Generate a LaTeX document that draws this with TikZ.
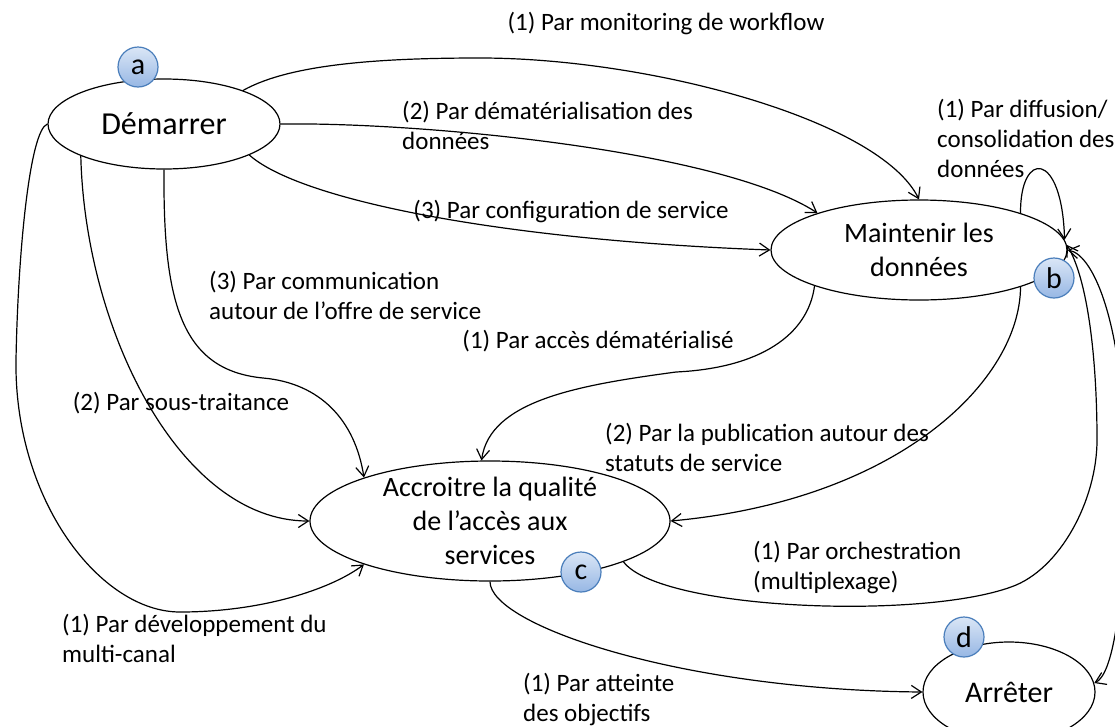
\documentclass[tikz,border=0pt]{standalone}
\usepackage{fontspec}
\setmainfont{Carlito}
\usepackage{tikz}
\usetikzlibrary{
  arrows.meta,
  shapes.geometric
}
\definecolor{pastBord}{HTML}{4A7EBB}
\definecolor{pastHaut}{HTML}{DAE6F6}
\definecolor{pastBas}{HTML}{97B7E4}
\tikzset{
  etat/.style={draw, ellipse, fill=white, line width=1.2pt, inner sep=0pt},
  etattxt/.style={align=center, inner sep=0pt, font=\fontsize{28}{34}\selectfont},
  pastille/.style={
    circle, draw=pastBord, line width=1.2pt, top color=pastHaut, bottom color=pastBas,
    minimum size=40pt, inner sep=0pt, font=\fontsize{30}{30}\selectfont
  },
  lbl/.style={font=\fontsize{25}{30}\selectfont, align=left, inner sep=0pt},
  trans/.style={-{Straight Barb[length=10pt,width=13pt]}, line width=1.2pt},
  bitrans/.style={{Straight Barb[length=10pt,width=13pt]}-{Straight Barb[length=10pt,width=13pt]}, line width=1.2pt}
}

\begin{document}
\begin{tikzpicture}[x=1pt, y=-1pt]
  \useasboundingbox (0,0) rectangle (1115,726);
  \clip (0,0) rectangle (1115,726);

  % etats
  \node[etat, minimum width=232pt, minimum height=90pt,
    label={[etattxt, font=\fontsize{32}{38}\selectfont]center:Démarrer}] (demarrer) at (164,124) {};
  \node[etat, minimum width=296pt, minimum height=100pt,
    label={[etattxt]center:Maintenir les\\données}] (maintenir) at (919,250) {};
  \node[etat, minimum width=360pt, minimum height=120pt,
    label={[etattxt]center:Accroitre la qualité\\de l’accès aux\\services}] (accroitre) at (490,521) {};
  \node[etat, minimum width=172pt, minimum height=100pt,
    label={[etattxt, font=\fontsize{30}{36}\selectfont]center:Arrêter}] (arreter) at (1009,692) {};

  % transitions
  \draw[trans] (demarrer.23) .. controls (290,64) and (380,58) .. (480,58)
    .. controls (650,58) and (880,120) .. (maintenir.90);
  \draw[trans] (demarrer.0) .. controls (420,122) and (720,150) .. (maintenir.160);
  \draw[trans] (demarrer.-20) .. controls (300,200) and (500,240) .. (maintenir.180);
  \draw[trans] (maintenir.20) .. controls (1020,150) and (1062,150) .. (maintenir.4);
  \draw[trans] (demarrer.270) .. controls (163,300) and (180,370) .. (263,378)
    .. controls (320,383) and (355,420) .. (accroitre.161);
  \draw[trans] (demarrer.201) .. controls (85,330) and (180,521) .. (accroitre.180);
  \draw[trans] (demarrer.180) .. controls (30,130) and (18,250) .. (16,360)
    .. controls (14,500) and (100,612) .. (180,612)
    .. controls (260,612) and (330,590) .. (accroitre.199);
  \draw[trans] (maintenir.199) .. controls (808,335) and (760,368) .. (676,372)
    .. controls (580,385) and (490,400) .. (accroitre.98);
  \draw[trans] (maintenir.-20) .. controls (1020,380) and (900,500) .. (accroitre.0);
  \draw[trans] (accroitre.-17) .. controls (660,610) and (920,620) .. (1011,587)
    .. controls (1060,570) and (1097,500) .. (1097,440)
    .. controls (1097,360) and (1088,280) .. (maintenir.2);
  \draw[trans] (accroitre.270) .. controls (490,625) and (680,690) .. (arreter.180);
  \draw[bitrans] (maintenir.0) .. controls (1095,255) and (1125,330) .. (1125,470)
    .. controls (1125,610) and (1112,675) .. (arreter.6);

  % libelles
  \node[lbl] (lmonit) at (666,24) {(1) Par monitoring de workflow};
  \node[lbl, anchor=west] (ldemat) at (402,125) {(2) Par dématérialisation des\\données};
  \node[lbl] (lconfig) at (571,211) {(3) Par configuration de service};
  \node[lbl, anchor=west] (ldiffu) at (937,138) {(1) Par diffusion/\\consolidation des\\données};
  \node[lbl, anchor=west] (lcomm) at (209,295) {(3) Par communication\\autour de l’offre de service};
  \node[lbl] (lsous) at (181,403) {(2) Par sous-traitance};
  \node[lbl] (lacces) at (598,341) {(1) Par accès dématérialisé};
  \node[lbl, anchor=west] (lpubli) at (605,447) {(2) Par la publication autour des\\statuts de service};
  \node[lbl, anchor=west] (lorch) at (753,567) {(1) Par orchestration\\(multiplexage)};
  \node[lbl, anchor=west] (ldevel) at (62,638) {(1) Par développement du\\multi-canal};
  \node[lbl, anchor=west] (latteinte) at (523,699) {(1) Par atteinte\\des objectifs};

  % pastilles
  \node[pastille] (pa) at (138,67) {a};
  \node[pastille] (pb) at (1054,278) {b};
  \node[pastille] (pc) at (581,572) {c};
  \node[pastille] (pd) at (964,637) {d};
\end{tikzpicture}
\end{document}
